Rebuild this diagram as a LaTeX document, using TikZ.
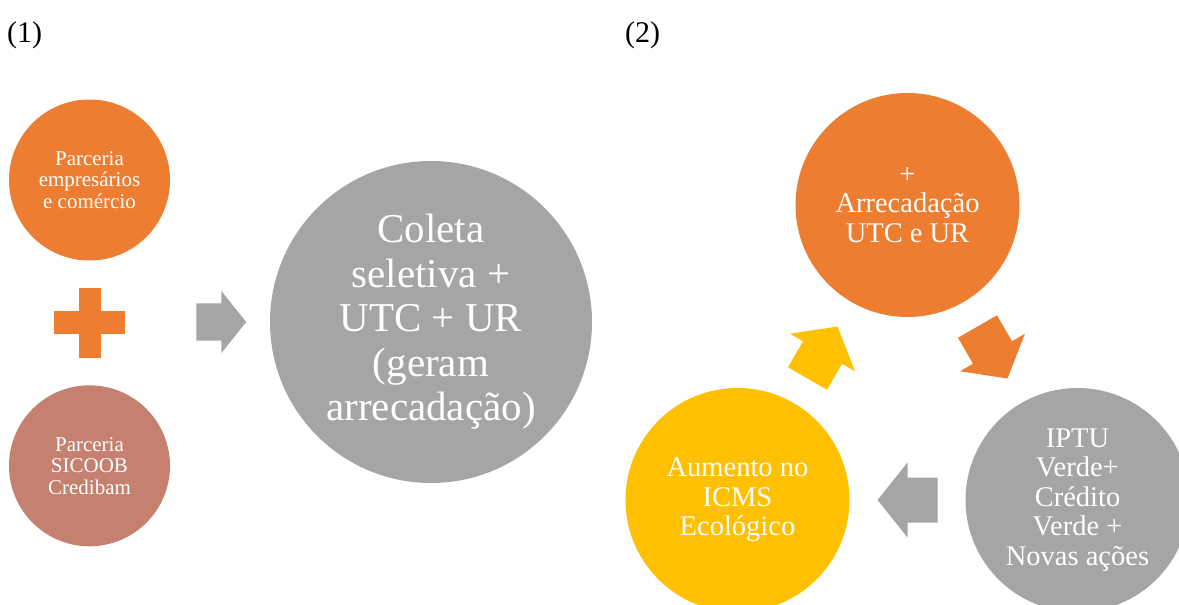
\documentclass[tikz,border=0pt]{standalone}
\usepackage{fontspec}
\setmainfont{Liberation Serif}
\usetikzlibrary{positioning,calc}

\definecolor{accorange}{HTML}{ED7D31}
\definecolor{accbrown}{HTML}{C5806F}
\definecolor{accgray}{HTML}{A5A5A5}
\definecolor{accyellow}{HTML}{FFC000}

\begin{document}
\begin{tikzpicture}[x=1pt,y=1pt,
    every node/.style={shape=circle,inner sep=0pt,text=white,align=center},
    smallcirc/.style={minimum size=161pt,font=\fontsize{21}{21.5}\selectfont},
    bigcirc/.style={minimum size=322pt},
    bigtext/.style={font=\fontsize{41}{44.5}\selectfont},
    ringcirc/.style={minimum size=224pt,font=\fontsize{28.5}{29.5}\selectfont},
    tag/.style={shape=rectangle,text=black,anchor=base west,font=\fontsize{30}{30}\selectfont},
    blockarrow/.pic={\fill[pic actions] (-30,-22.5) -- (0,-22.5) -- (0,-37.5) -- (30,0) -- (0,37.5) -- (0,22.5) -- (-30,22.5) -- cycle;},
  ]
    \clip (0,0) rectangle (1179,-605);
    % part (1)
    \node (tag1) [tag] at (7,-42) {(1)};
    \node (emp) [smallcirc, fill=accorange] at (89.5,-180) {Parceria\\empresários\\e comércio};
    \node (plus) [below=27pt of emp, shape=rectangle, minimum size=70pt] {};
    \node (sicoob) [below=27pt of plus, smallcirc, fill=accbrown] {Parceria\\SICOOB\\Credibam};
    \node (coleta) [bigcirc, fill=accgray, label={[bigtext]center:Coleta\\seletiva +\\UTC + UR\\(geram\\arrecadação)}] at (431,-322) {};
    \fill[accorange] ($(plus.north)+(-11,0)$) rectangle ($(plus.south)+(11,0)$);
    \fill[accorange] ($(plus.west)+(0,11.5)$) rectangle ($(plus.east)+(0,-11.5)$);
    \pic[fill=accgray, scale=0.83] at ($(coleta.west)+(-48.5,0)$) {blockarrow};
    % part (2)
    \node (tag2) [tag] at (625,-42) {(2)};
    \node (arrec) [ringcirc, fill=accorange] at (907.5,-205) {+\\Arrecadação\\UTC e UR};
    \node (iptu) [ringcirc, fill=accgray] at (1077.5,-500) {IPTU\\Verde+\\Crédito\\Verde +\\Novas ações};
    \node (icms) [ringcirc, fill=accyellow] at (737.5,-500) {Aumento no\\ICMS\\Ecológico};
    % arrows of the cycle
    \pic[fill=accorange, rotate=-60] at ($(arrec)!.5!(iptu)$) {blockarrow};
    \pic[fill=accgray, rotate=180] at ($(iptu)!.5!(icms)$) {blockarrow};
    \pic[fill=accyellow, rotate=60] at ($(icms)!.5!(arrec)$) {blockarrow};
\end{tikzpicture}
\end{document}
